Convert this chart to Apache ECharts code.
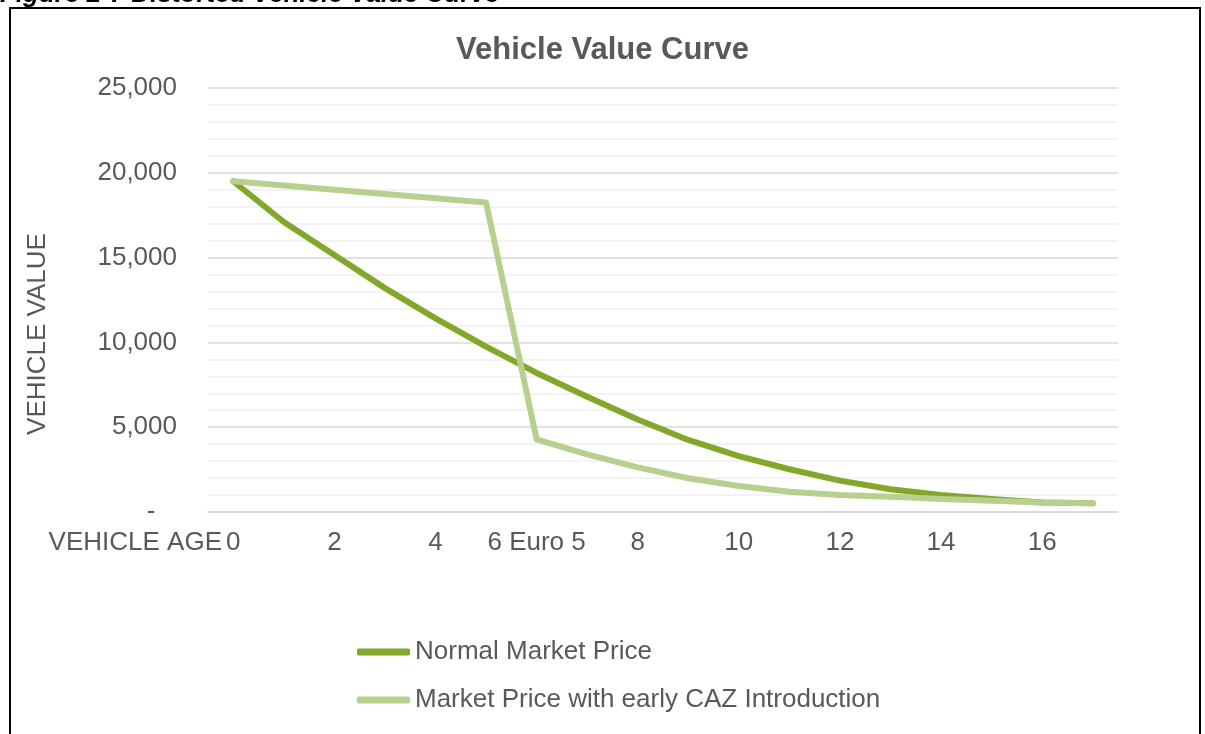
<!DOCTYPE html>
<html>
<head>
<meta charset="utf-8">
<script src="https://cdn.jsdelivr.net/npm/echarts@6/dist/echarts.min.js"></script>
<style>
  html, body { margin: 0; padding: 0; background: #fff; }
  #chart { width: 1205px; height: 734px; }
</style>
</head>
<body>
<div id="chart"></div>
<script>
// vehicle age in years
const ages = ['0', '1', '2', '3', '4', '5', '6', '7', '8', '9', '10', '11', '12', '13', '14', '15', '16', '17']
const ageLabels = { '6': '6 Euro 5' }
const normalPrice = [19500, 17100, 15150, 13200, 11420, 9750, 8200, 6800, 5450, 4250, 3300, 2520, 1850, 1340, 1000, 770, 560, 510]
const cazPrice = [19500, 19250, 19000, 18750, 18500, 18250, 4280, 3400, 2630, 1990, 1530, 1200, 1000, 900, 770, 670, 560, 510]
const seriesNames = ['Normal Market Price', 'Market Price with early CAZ Introduction']

const grey = '#595959'
const font = 'Liberation Sans'

const chart = echarts.init(document.getElementById('chart'))
chart.setOption({
  animation: false,
  textStyle: { fontFamily: font },
  title: {
    text: 'Vehicle Value Curve',
    left: 'center',
    top: 30,
    textStyle: { fontSize: 31, fontWeight: 'bold', color: grey, fontFamily: font }
  },
  grid: { left: 208, right: 87, top: 88, bottom: 222 },
  legend: {
    orient: 'vertical',
    left: 352,
    top: 634,
    itemWidth: 53,
    itemHeight: 7,
    itemGap: 22,
    icon: 'roundRect',
    data: seriesNames,
    textStyle: { fontSize: 26, color: grey, fontFamily: font }
  },
  xAxis: {
    type: 'category',
    data: ages,
    boundaryGap: true,
    axisLine: { lineStyle: { color: '#d9d9d9', width: 1.5 } },
    axisTick: { show: false },
    axisLabel: {
      interval: 1,
      margin: 18,
      fontSize: 26,
      color: grey,
      formatter: v => ageLabels[v] || v
    }
  },
  yAxis: {
    type: 'value',
    min: 0,
    max: 25000,
    interval: 5000,
    axisLine: { show: false },
    axisTick: { show: false },
    axisLabel: {
      margin: 31,
      fontSize: 26,
      color: grey,
      formatter: v => v === 0 ? '-   ' : v.toLocaleString('en-US')
    },
    splitLine: { lineStyle: { color: '#d9d9d9', width: 1.5 } },
    minorTick: { show: false, splitNumber: 5 },
    minorSplitLine: { show: true, lineStyle: { color: '#f0f0f0', width: 1.5 } }
  },
  series: [
    {
      name: seriesNames[0],
      type: 'line',
      data: normalPrice,
      symbol: 'none',
      color: '#82a82b',
      lineStyle: { width: 6, cap: 'round', join: 'round' }
    },
    {
      name: seriesNames[1],
      type: 'line',
      data: cazPrice,
      symbol: 'none',
      color: '#b7d08d',
      lineStyle: { width: 6, cap: 'round', join: 'round' }
    }
  ],
  graphic: [
    {
      type: 'rect',
      shape: { x: 10, y: 8, width: 1190, height: 760 },
      style: { fill: 'none', stroke: '#000', lineWidth: 2 }
    },
    {
      type: 'text',
      x: 0,
      y: 8,
      style: {
        text: 'Figure 2-7 Distorted Vehicle Value Curve',
        font: 'italic bold 26px ' + font,
        fill: '#000',
        verticalAlign: 'bottom'
      }
    },
    {
      type: 'text',
      x: 222,
      y: 543,
      style: {
        text: 'VEHICLE AGE',
        font: '26px ' + font,
        fill: grey,
        align: 'right',
        verticalAlign: 'middle'
      }
    },
    {
      type: 'text',
      x: 38,
      y: 334,
      rotation: Math.PI / 2,
      style: {
        text: 'VEHICLE VALUE',
        font: '26px ' + font,
        fill: grey,
        align: 'center',
        verticalAlign: 'middle'
      }
    }
  ]
})
</script>
</body>
</html>
